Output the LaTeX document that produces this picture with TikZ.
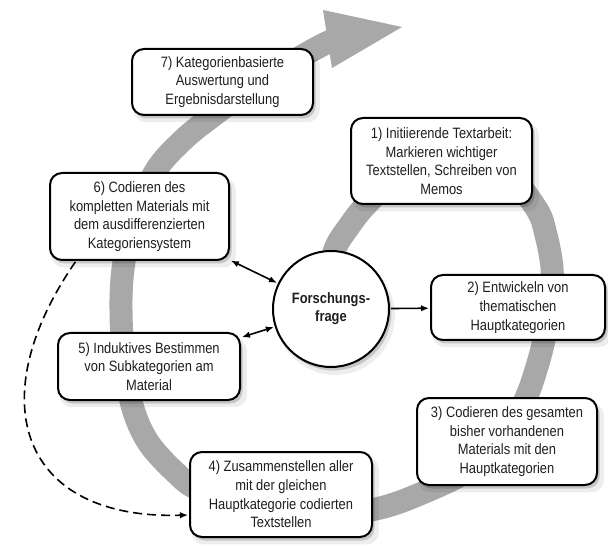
\documentclass[tikz,border=0pt]{standalone}
\usepackage{fontspec}
\setmainfont{Liberation Sans}[FakeStretch=0.86]
\usetikzlibrary{arrows.meta,shadows}
\definecolor{bandgray}{RGB}{168,168,168}
\begin{document}
\begin{tikzpicture}[x=1pt,y=-1pt,
  >={Latex[length=8pt,width=6.5pt]},
  shadowed/.style={
    general shadow={fill=black, opacity=0.07, shadow xshift=4pt, shadow yshift=-6pt, shadow scale=1.03},
    general shadow={fill=black, opacity=0.16, shadow xshift=2.5pt, shadow yshift=-3.5pt}},
  box/.style={draw=black, line width=2pt, fill=white, rounded corners=12pt,
    align=center, inner sep=0pt, text=black!88,
    font=\fontsize{15}{18.7}\selectfont, shadowed},
  conn/.style={line width=1.6pt, black, shorten >=1pt, shorten <=1pt}
]
\useasboundingbox (0,0) rectangle (608,545);
\fill[white] (0,0) rectangle (608,545);

% gray spiral band
\draw[bandgray, line width=23pt, line cap=butt]
  plot[smooth, tension=0.55] coordinates {
  (331,292) (334,252) (350,225) (367,204) (400,173) (450,155) (500,166)
  (536,208) (546,235) (552,268) (551,302) (544,340) (536,370) (526,398)
  (505,440) (470,470) (420,494) (380,508) (330,515) (260,507) (200,490)
  (176,473) (148,442) (132,405) (123,350) (121,300) (124,262) (133,225)
  (155,172) (183,140) (214,115) (262,80) (313,50) (335,39)};
\fill[bandgray] (323,10) -- (402,27) -- (332,68) -- cycle;

% boxes
\node[box, minimum width=181pt, minimum height=66pt] (b7) at (222.5,82)
  {7) Kategorienbasierte\\Auswertung und\\Ergebnisdarstellung};
\node[box, minimum width=181pt, minimum height=86pt] (b1) at (441.5,161)
  {1) Initiierende Textarbeit:\\Markieren wichtiger\\Textstellen, Schreiben von\\Memos};
\node[box, minimum width=179pt, minimum height=87pt] (b6) at (139.5,216.5)
  {6) Codieren des\\kompletten Materials mit\\dem ausdifferenzierten\\Kategoriensystem};
\node[box, minimum width=174pt, minimum height=65pt] (b2) at (518,307.5)
  {2) Entwickeln von\\thematischen\\Hauptkategorien};
\node[box, minimum width=182pt, minimum height=67pt] (b5) at (149,366.5)
  {5) Induktives Bestimmen\\von Subkategorien am\\Material};
\node[box, minimum width=180pt, minimum height=87pt] (b3) at (507,441.5)
  {3) Codieren des gesamten\\bisher vorhandenen\\Materials mit den\\Hauptkategorien};
\node[box, minimum width=182pt, minimum height=85pt] (b4) at (281,494.5)
  {4) Zusammenstellen aller\\mit der gleichen\\Hauptkategorie codierten\\Textstellen};
\node[circle, draw=black, line width=2pt, fill=white, minimum size=116pt,
  inner sep=0pt, align=center, text=black!88,
  font=\bfseries\fontsize{15}{18}\selectfont, shadowed] (ff) at (331,309)
  {Forschungs-\\frage};

% connectors
\draw[conn, ->] (ff) -- (b2);
\draw[conn, <->] (b6) -- (ff);
\draw[conn, <->] (b5) -- (ff);
\draw[conn, dash pattern=on 9pt off 5pt, ->]
  ([xshift=27pt]b6.south west) .. controls (-20,400) and (20,520) .. ([yshift=-20.5pt]b4.west);
\end{tikzpicture}
\end{document}
